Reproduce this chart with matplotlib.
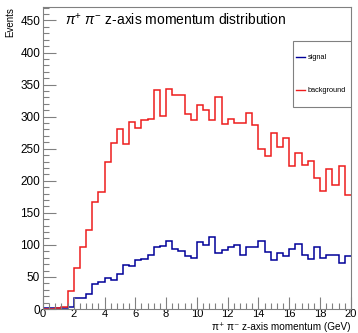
import numpy as np
import matplotlib
matplotlib.use("Agg")
import matplotlib.pyplot as plt
from matplotlib.patches import Rectangle
from matplotlib.lines import Line2D

plt.rcParams["font.family"] = ["Liberation Sans", "DejaVu Sans"]
plt.rcParams["mathtext.fontset"] = "custom"
plt.rcParams["mathtext.rm"] = "Liberation Sans"
plt.rcParams["mathtext.it"] = "Liberation Sans:italic"

# 50 bins of 0.4 GeV from 0 to 20
bin_lo = 0.0
bin_hi = 20.0
n_bins = 50

signal = [1, 1, 1, 1, 3, 17, 17, 24, 39, 42,
          49, 46, 55, 69, 67, 76, 78, 85, 96, 99,
          106, 93, 91, 82, 79, 104, 100, 112, 87, 92,
          97, 100, 84, 96, 96, 106, 89, 77, 88, 82,
          94, 101, 85, 78, 97, 79, 85, 85, 71, 82]

background = [0, 0, 1, 3, 28, 64, 97, 124, 167, 183,
              229, 259, 280, 257, 291, 283, 295, 297, 341, 301,
              343, 334, 334, 304, 294, 318, 311, 295, 330, 289,
              296, 290, 290, 305, 287, 249, 239, 275, 252, 266,
              223, 244, 224, 231, 205, 184, 219, 193, 223, 178]

title = r"$\pi^{+}$ $\pi^{-}$ z-axis momentum distribution"
xlabel = "π⁺ π⁻ z-axis momentum (GeV)"
ylabel = "Events"

edges = np.linspace(bin_lo, bin_hi, n_bins + 1)
frame_col = "#808080"
sig_col = "#000099"
bkg_col = "#ee1c1c"

fig = plt.figure(figsize=(3.58, 3.33), dpi=100)
ax = fig.add_axes([0.120, 0.072, 0.860, 0.907])

ax.stairs(signal, edges, baseline=None, color=sig_col, lw=1.1)
ax.stairs(background, edges, baseline=None, color=bkg_col, lw=1.1)

ax.set_xlim(0, 20)
ax.set_ylim(0, 471)
ax.set_xticks(np.arange(0, 21, 2))
ax.set_xticks(np.arange(0, 20.01, 0.4), minor=True)
ax.set_yticks(np.arange(0, 451, 50))
ax.set_yticks(np.arange(0, 471, 10), minor=True)

for s in ax.spines.values():
    s.set_color(frame_col)
ax.tick_params(which="both", direction="in", color=frame_col, top=False, right=False,
               labelsize=8.5, pad=2)
ax.tick_params(axis="x", which="both", pad=0, labelsize=8)
ax.tick_params(which="major", length=9, width=0.8)
ax.tick_params(which="minor", length=4.5, width=0.8)

fig.text(65 / 358, 1 - 20 / 333, title, fontsize=10, ha="left", va="center")
fig.text(351 / 358, 0.5 / 333, xlabel, fontsize=7.2, ha="right", va="bottom")
ax.set_ylabel(ylabel, fontsize=7, loc="top", labelpad=4)

# ROOT-style legend box
ax.add_patch(Rectangle((0.812, 0.669), 0.188, 0.218, transform=ax.transAxes,
                       facecolor="white", edgecolor=frame_col, lw=0.8, zorder=5))
for yy, lab, col in [(0.834, "signal", sig_col), (0.725, "background", bkg_col)]:
    ax.add_line(Line2D([0.821, 0.851], [yy, yy], transform=ax.transAxes,
                       color=col, lw=1.0, zorder=6))
    ax.text(0.860, yy, lab, transform=ax.transAxes, fontsize=5.3,
            ha="left", va="center", zorder=6)

plt.savefig("out.png", dpi=100)
plt.close()
